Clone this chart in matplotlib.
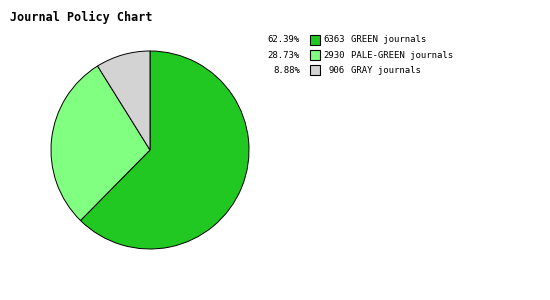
import matplotlib
matplotlib.use("Agg")
import matplotlib.pyplot as plt
from matplotlib.patches import Rectangle

labels = ["GREEN journals", "PALE-GREEN journals", "GRAY journals"]
counts = [6363, 2930, 906]
percents = ["62.39%", "28.73%", "8.88%"]
colors = ["#22c822", "#80ff80", "#d3d3d3"]

W, H = 550, 300
fig = plt.figure(figsize=(W / 100, H / 100), dpi=100)
fig.patch.set_facecolor("white")

def fx(x):
    return x / W

def fy(y):
    return 1 - y / H

fig.text(fx(10), fy(17), "Journal Policy Chart", fontsize=8.5, fontweight="bold",
         family="DejaVu Sans Mono", ha="left", va="center")

# pie
ax = fig.add_axes([fx(50), fy(250), 200 / W, 200 / H])
ax.pie(counts, colors=colors, startangle=90, counterclock=False,
       wedgeprops=dict(edgecolor="black", linewidth=0.7))
ax.set_aspect("equal")
ax.set_xlim(-1.01, 1.01)
ax.set_ylim(-1.01, 1.01)
ax.axis("off")

# legend
row_y = [40, 55, 70]
for i in range(len(labels)):
    y = fy(row_y[i])
    fig.text(fx(300), y, percents[i], fontsize=6.5, family="DejaVu Sans Mono",
             ha="right", va="center")
    fig.patches.append(Rectangle((fx(310), fy(row_y[i] + 5)), 10 / W, 10 / H,
                                 facecolor=colors[i], edgecolor="black", linewidth=0.8,
                                 transform=fig.transFigure, figure=fig))
    fig.text(fx(345), y, str(counts[i]), fontsize=6.5, family="DejaVu Sans Mono",
             ha="right", va="center")
    fig.text(fx(351), y, labels[i], fontsize=6.5, family="DejaVu Sans Mono",
             ha="left", va="center")

fig.savefig("out.png", dpi=100, facecolor="white")
